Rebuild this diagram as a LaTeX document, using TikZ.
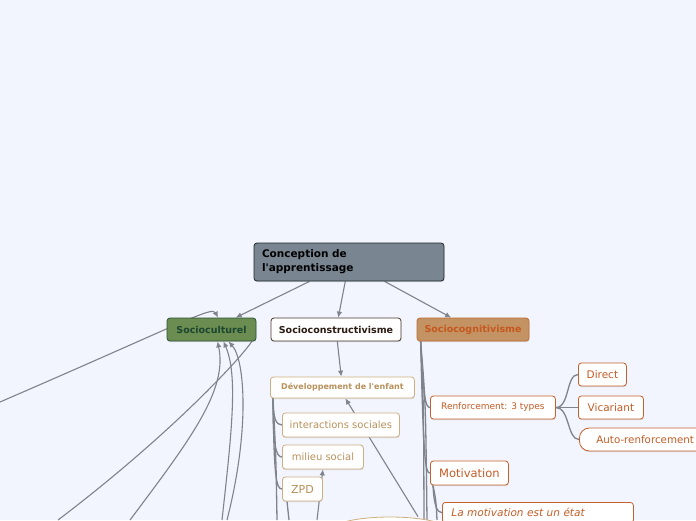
\documentclass[tikz,border=0pt]{standalone}
\usepackage{fontspec}
\setmainfont{DejaVu Sans}
\usetikzlibrary{arrows.meta, shapes.geometric, shadows, backgrounds}

\definecolor{paper}{HTML}{F2F5FD}
\definecolor{wire}{HTML}{7F838B}
\definecolor{slate}{HTML}{798692}
\definecolor{slateedge}{HTML}{1F2429}
\definecolor{moss}{HTML}{6B8D51}
\definecolor{mossedge}{HTML}{2C5238}
\definecolor{mossink}{HTML}{1C4630}
\definecolor{bark}{HTML}{4B352C}
\definecolor{barkink}{HTML}{2A1A12}
\definecolor{clay}{HTML}{C49363}
\definecolor{clayedge}{HTML}{C06A34}
\definecolor{clayink}{HTML}{C4581F}
\definecolor{sand}{HTML}{CFAF80}
\definecolor{sandink}{HTML}{B8915C}
\definecolor{rust}{HTML}{C4622D}
\definecolor{rustink}{HTML}{C45C26}

\tikzset{
  >={Latex[length=6pt, width=5.5pt]},
  %
  topic/.style={
    draw, line width=0.8pt, fill=white, rounded corners=3pt,
    inner xsep=6pt, inner ysep=3pt, minimum height=23pt,
    drop shadow={opacity=0.22, shadow xshift=0.4pt, shadow yshift=-1.2pt},
  },
  racine/.style={topic, fill=slate, draw=slateedge, text=black,
    minimum width=190pt, minimum height=38pt, text width=174pt, inner xsep=8pt,
    align=left, font=\bfseries\fontsize{10.5}{14}\selectfont},
  topicg/.style={topic, fill=moss, draw=mossedge, text=mossink,
    font=\bfseries\fontsize{9.5}{11}\selectfont},
  topicc/.style={topic, draw=bark, text=barkink,
    font=\bfseries\fontsize{9.5}{11}\selectfont},
  topicw/.style={topic, fill=clay, draw=clayedge, text=clayink,
    font=\bfseries\fontsize{9.5}{11}\selectfont},
  %
  subt/.style={topic, draw=sand, text=sandink, anchor=west, minimum height=24pt,
    font=\fontsize{10}{12}\selectfont},
  subr/.style={topic, draw=rust, text=rustink, anchor=west, minimum height=23pt,
    font=\fontsize{10.5}{12}\selectfont},
  %
  flow/.style={draw=wire, line width=1.1pt, ->},
  limb/.style={draw=wire, line width=1.3pt},
}

\begin{document}
\begin{tikzpicture}[x=1pt, y=-1pt]
  \useasboundingbox (0,0) rectangle (696,520);

  % --- central topic -----------------------------------------------------
  \node[racine] (concept) at (349,262) {Conception de\\l\textquotesingle apprentissage};

  % --- the three currents ------------------------------------------------
  \node[topicg, minimum width=89pt]  (socult)   at (211.5,329.5) {Socioculturel};
  \node[topicc, minimum width=130pt] (socconst) at (336,329.5)   {Socioconstructivisme};
  \node[topicw, minimum width=112pt] (soccog)   at (473,329.5)   {Sociocognitivisme};

  % --- socioconstructivisme ----------------------------------------------
  \node[subt, minimum width=144pt, minimum height=21pt,
        font=\bfseries\fontsize{8}{10}\selectfont] (dev) at (270,387.5)
    {Développement de l\textquotesingle enfant};
  \node[subt, minimum width=117pt] (interac) at (282,425) {interactions sociales};
  \node[subt, minimum width=81pt]  (milieu)  at (282,457) {milieu social};
  \node[subt, minimum width=40pt, font=\fontsize{11}{13}\selectfont] (zpd) at (282,489) {ZPD};
  \node[ellipse, draw=sand, line width=0.8pt, fill=white, minimum width=120pt,
        minimum height=28pt, drop shadow={opacity=0.22, shadow yshift=-1.2pt}]
    (cible) at (390,531) {};

  % --- sociocognitivisme -------------------------------------------------
  \node[subr, minimum width=125pt, font=\fontsize{9}{11}\selectfont] (renf) at (430,407.5)
    {Renforcement: 3 types};
  \node[subr, minimum width=48pt]  (direct) at (578,374.5) {Direct};
  \node[subr, minimum width=65pt]  (vicar)  at (578,407.5) {Vicariant};
  \node[subr, rounded corners=10pt, inner xsep=17pt, font=\fontsize{10.3}{12}\selectfont]
    (autoren) at (579,439.5) {Auto-renforcement};
  \node[subr, minimum width=78pt, minimum height=24pt, font=\fontsize{11.5}{13}\selectfont]
    (motiv) at (430,473) {Motivation};
  \node[subr, anchor=north west, minimum height=0pt, text width=173pt, inner xsep=9pt,
        inner ysep=6pt, align=left, font=\itshape\fontsize{10.5}{13}\selectfont]
    (etat) at (442,502) {La motivation est un état};

  % --- connectors, behind the topics -------------------------------------
  \begin{scope}[on background layer]
    \fill[fill=paper] (0,0) rectangle (696,520);

    % free ends of links to topics outside the page
    \coordinate (horsO)  at (0,402);
    \coordinate (horsS1) at (58,520);
    \coordinate (horsS2) at (130,520);
    \coordinate (horsS3) at (222,520);
    \coordinate (horsS4) at (227,520);
    \coordinate (horsD1) at (277,520);
    \coordinate (horsD2) at (289,520);
    \coordinate (horsM)  at (317,520);
    \coordinate (horsC1) at (424,520);
    \coordinate (horsC2) at (427,520);
    \coordinate (horsV)  at (437,520);

    \draw[flow] (concept) -- (socult);
    \draw[flow] (concept) -- (socconst);
    \draw[flow] (concept) -- (soccog);
    \draw[flow] (socconst) -- (dev);

    % links into Socioculturel
    \draw[flow] (horsO) .. controls (185,322) and (212,306) .. ([xshift=6.5pt]socult.north);
    \draw[flow] (horsS1) .. controls (190,420) and (268,328) .. ([xshift=35pt]socult.south);
    \draw[flow] (horsS2) .. controls (190,440) and (228,390) .. ([xshift=6pt]socult.south);
    \draw[flow] (horsS3) .. controls (232,430) and (238,375) .. ([xshift=12pt]socult.south);
    \draw[flow] (horsS4) .. controls (250,430) and (245,360) .. ([xshift=17pt]socult.south);

    % Développement de l'enfant
    \draw[limb] ([xshift=3pt]dev.south west) .. controls +(0,20) and +(-6,0) .. (interac.west);
    \draw[limb] ([xshift=3pt]dev.south west) .. controls +(0,48) and +(-6,0) .. (milieu.west);
    \draw[limb] ([xshift=3pt]dev.south west) .. controls +(1,78) and +(-6,0) .. (zpd.west);
    \draw[limb] ([xshift=3pt]dev.south west) .. controls +(3,60) .. (horsD1);
    \draw[limb] (horsD2) -- ([xshift=5pt]zpd.south west);
    \draw[flow] (horsM) -- (milieu.south);
    \draw[flow] ([xshift=28pt]cible.north) -- ([xshift=3pt]dev.south);

    % Sociocognitivisme
    \draw[limb] ([xshift=4pt]soccog.south west) .. controls +(3,54) and +(-5,0) .. (renf.west);
    \draw[limb] ([xshift=4pt]soccog.south west) .. controls +(3,118) and +(-5,0) .. (motiv.west);
    \draw[limb] ([xshift=4pt]soccog.south west) .. controls +(3,60) .. (horsC1);
    \draw[limb] ([xshift=4pt]soccog.south west) .. controls +(5,60) .. (horsC2);
    \draw[limb] (renf.east) .. controls +(14,0) and +(-12,0) .. (direct.west);
    \draw[limb] (renf.east) -- (vicar.west);
    \draw[limb] (renf.east) .. controls +(14,0) and +(-12,0) .. (autoren.west);
    \draw[limb] ([xshift=3pt]motiv.south west) .. controls +(1,20) and +(-5,0) .. (etat.west);
    \draw[limb] ([xshift=3pt]motiv.south west) .. controls +(3,15) .. (horsV);
  \end{scope}
\end{tikzpicture}
\end{document}
